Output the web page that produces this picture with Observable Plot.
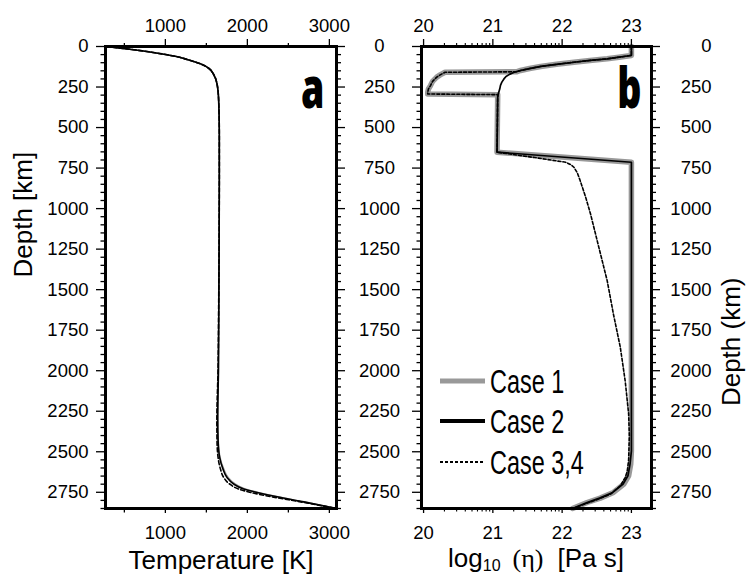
<!DOCTYPE html>
<html>
<head>
<meta charset="utf-8">
<script src="https://cdn.jsdelivr.net/npm/d3@7"></script>
<script src="https://cdn.jsdelivr.net/npm/@observablehq/plot@0.6"></script>
<style>
html, body { margin: 0; padding: 0; background: #fff; }
#wrap { position: relative; width: 746px; height: 575px; overflow: hidden; }
#wrap svg { position: absolute; top: 0; overflow: visible; }
</style>
</head>
<body>
<div id="wrap"></div>
<script>
// ---------------- data ----------------
const depthTicks = [0, 250, 500, 750, 1000, 1250, 1500, 1750, 2000, 2250, 2500, 2750];
const depthMinorTicks = d3.range(50, 2851, 50).filter(d => d % 250 !== 0);
const tempTicks = [1000, 2000, 3000];
const tempMinorTicks = [500, 1500, 2500];
const viscTicks = [20, 21, 22, 23];
const viscMinorTicks = [20, 21, 22, 23].flatMap(n => [2,3,4,5,6,7,8,9].map(k => n + Math.log10(k))).filter(v => v < 23.29);

const legendLabels = ["Case 1", "Case 2", "Case 3,4"];
const panelLetters = ["a", "b"];

// [depth km, temperature K]
const tempCase1 = [[0,280],[10,450],[20,613],[35,830],[51,1020],[65,1160],[80,1264],[107,1427],[134,1528],[173,1589],[230,1630],[333,1650],[540,1658],[800,1658],[1200,1656],[1600,1652],[2000,1647],[2300,1640],[2432,1645],[2535,1666],[2607,1712],[2659,1765],[2699,1850],[2730,1972],[2751,2132],[2778,2372],[2809,2692],[2850,3087]];
const tempCase2 = [[0,280],[10,450],[20,613],[35,830],[51,1020],[65,1160],[80,1264],[107,1427],[134,1528],[173,1589],[230,1630],[333,1650],[540,1658],[800,1658],[1200,1656],[1600,1652],[2000,1647],[2300,1638],[2432,1643],[2535,1662],[2607,1703],[2659,1752],[2699,1833],[2730,1955],[2751,2118],[2778,2362],[2809,2687],[2850,3087]];
const tempCase34 = [[0,280],[10,450],[20,613],[35,830],[51,1020],[65,1160],[80,1264],[107,1427],[134,1528],[173,1589],[230,1630],[333,1650],[540,1658],[800,1658],[1200,1655],[1600,1650],[2000,1642],[2300,1628],[2432,1630],[2535,1643],[2607,1672],[2659,1712],[2699,1784],[2730,1894],[2751,2040],[2778,2300],[2809,2650],[2850,3087]];

// [depth km, log10 viscosity]
const viscCase1 = [[0,23.0],[55,23.0],[60,22.92],[66,22.82],[76,22.65],[86,22.4],[97,22.17],[110,21.92],[123,21.69],[136,21.53],[148,21.40],[156,21.34],[159,20.31],[175,20.24],[189,20.19],[215,20.13],[241,20.10],[262,20.07],[282,20.06],[293,20.06],[297,21.07],[652,21.06],[714,23.0],[2494,23.0],[2576,22.99],[2648,22.96],[2699,22.89],[2751,22.74],[2786,22.55],[2813,22.36],[2850,22.15]];
const viscCase2 = [[0,23.0],[55,23.0],[60,22.92],[66,22.82],[76,22.65],[86,22.4],[97,22.17],[110,21.92],[123,21.69],[136,21.53],[148,21.40],[160,21.30],[172,21.24],[185,21.19],[200,21.16],[220,21.13],[240,21.11],[261,21.10],[290,21.08],[313,21.07],[652,21.06],[714,23.0],[2494,23.0],[2576,22.98],[2648,22.95],[2699,22.88],[2751,22.73],[2786,22.54],[2813,22.36],[2850,22.15]];
const viscCase34 = [[0,23.0],[55,23.0],[60,22.92],[66,22.82],[76,22.65],[86,22.4],[97,22.17],[110,21.92],[123,21.69],[136,21.53],[148,21.40],[156,21.34],[159,20.31],[175,20.24],[189,20.19],[215,20.13],[241,20.10],[262,20.07],[282,20.06],[293,20.06],[297,21.07],[652,21.06],[685,21.6],[714,22.05],[730,22.13],[745,22.17],[780,22.22],[827,22.26],[930,22.34],[1033,22.41],[1239,22.53],[1444,22.65],[1650,22.74],[1856,22.84],[2062,22.91],[2267,22.96],[2400,22.97],[2550,22.96],[2620,22.94],[2659,22.91],[2710,22.84],[2761,22.70],[2796,22.50],[2827,22.30],[2850,22.15]];

// ---------------- layout ----------------
const H = 575;
const sansFont = '"Liberation Sans", Arial, Helvetica, sans-serif';
const condFont = '"Open Sans", "Noto Sans", sans-serif';
const tickFS = 18.5;
const titleFS = 26;
const fmt = d => String(d);
const blank = () => "";
const wrap = document.getElementById("wrap");

const depthY = {domain: [0, 2850], reverse: true};

// horizontally condense a text produced by a Plot.text mark
function condense(svgNode, label, sx) {
  d3.select(svgNode).selectAll("text").filter(function () { return this.textContent === label; })
    .each(function () {
      const el = d3.select(this);
      const tr = el.attr("transform");
      if (tr) {
        el.attr("transform", tr + ` scale(${sx},1)`);
      } else {
        const x = +el.attr("x") || 0, y = +el.attr("y") || 0;
        el.attr("x", null).attr("y", null).attr("transform", `translate(${x},${y}) scale(${sx},1)`);
      }
    });
}

// ---------- panel a ----------
const plotA = Plot.plot({
  width: 350, height: H,
  marginLeft: 105, marginRight: 14, marginTop: 46, marginBottom: 67,
  style: {fontFamily: sansFont, fontSize: tickFS + "px", color: "#000", background: "transparent", overflow: "visible"},
  x: {domain: [270, 3087]},
  y: depthY,
  marks: [
    Plot.line(tempCase1, {x: d => d[1], y: d => d[0], stroke: "#999", strokeWidth: 1.6, curve: "monotone-y"}),
    Plot.line(tempCase34, {x: d => d[1], y: d => d[0], stroke: "#000", strokeWidth: 1.6, strokeDasharray: "4,2.5", curve: "monotone-y"}),
    Plot.line(tempCase2, {x: d => d[1], y: d => d[0], stroke: "#000", strokeWidth: 1.6, curve: "monotone-y"}),
    Plot.frame({stroke: "#000", strokeWidth: 3}),
    Plot.axisX({anchor: "top", ticks: tempTicks, tickSize: 8, tickPadding: 7, tickFormat: fmt, label: null, fontSize: tickFS, strokeWidth: 1.3}),
    Plot.axisX({anchor: "top", ticks: tempMinorTicks, tickSize: 4, tickFormat: blank, label: null, strokeWidth: 1.3}),
    Plot.axisX({anchor: "bottom", ticks: tempTicks, tickSize: 5, tickPadding: 12, tickFormat: fmt, label: null, fontSize: tickFS, strokeWidth: 1.3}),
    Plot.axisX({anchor: "bottom", ticks: tempMinorTicks, tickSize: 4.5, tickFormat: blank, label: null, strokeWidth: 1.3}),
    Plot.axisY({anchor: "left", ticks: depthTicks, tickSize: 9, tickPadding: 8, tickFormat: fmt, label: null, fontSize: tickFS, strokeWidth: 1.3}),
    Plot.axisY({anchor: "left", ticks: depthMinorTicks, tickSize: 4.5, tickFormat: blank, label: null, strokeWidth: 1.3}),
    Plot.axisY({anchor: "right", ticks: depthTicks, tickSize: 8, tickFormat: blank, label: null, strokeWidth: 1.3}),
    Plot.axisY({anchor: "right", ticks: depthMinorTicks, tickSize: 4, tickFormat: blank, label: null, strokeWidth: 1.3}),
    Plot.text(["Temperature [K]"], {frameAnchor: "bottom", dy: 60, lineAnchor: "bottom", fontSize: titleFS}),
    Plot.text(["Depth [km]"], {frameAnchor: "left", rotate: -90, dx: -74, lineAnchor: "bottom", fontSize: titleFS}),
    Plot.text([panelLetters[0]], {frameAnchor: "top-right", dx: -12, dy: 61, textAnchor: "end", lineAnchor: "bottom", fontSize: 57, fontWeight: 800, fontFamily: condFont})
  ]
});
plotA.style.left = "0px";
condense(plotA, panelLetters[0], 0.66);
wrap.appendChild(plotA);

// ---------- panel b ----------
const B_LEFT = 350;
const plotB = Plot.plot({
  width: 396, height: H,
  marginLeft: 71, marginRight: 95, marginTop: 46, marginBottom: 67,
  style: {fontFamily: sansFont, fontSize: tickFS + "px", color: "#000", background: "transparent", overflow: "visible"},
  x: {domain: [19.97, 23.29]},
  y: depthY,
  marks: [
    Plot.line(viscCase1, {x: d => d[1], y: d => d[0], stroke: "#999", strokeWidth: 5.5, strokeLinejoin: "round"}),
    Plot.line(viscCase2, {x: d => d[1], y: d => d[0], stroke: "#000", strokeWidth: 1.7}),
    Plot.line(viscCase34, {x: d => d[1], y: d => d[0], stroke: "#000", strokeWidth: 1.6, strokeDasharray: "3,2"}),
    Plot.frame({stroke: "#000", strokeWidth: 3}),
    Plot.axisX({anchor: "top", ticks: viscTicks, tickSize: 8, tickPadding: 7, tickFormat: fmt, label: null, fontSize: tickFS, strokeWidth: 1.3}),
    Plot.axisX({anchor: "top", ticks: viscMinorTicks, tickSize: 4, tickFormat: blank, label: null, strokeWidth: 1.1}),
    Plot.axisX({anchor: "bottom", ticks: viscTicks, tickSize: 5, tickPadding: 12, tickFormat: fmt, label: null, fontSize: tickFS, strokeWidth: 1.3}),
    Plot.axisX({anchor: "bottom", ticks: viscMinorTicks, tickSize: 3.5, tickFormat: blank, label: null, strokeWidth: 1.1}),
    Plot.axisY({anchor: "left", ticks: depthTicks, tickSize: 9, tickFormat: blank, label: null, strokeWidth: 1.3}),
    Plot.axisY({anchor: "left", ticks: depthTicks, tickSize: 0, tickPadding: 42, textAnchor: "middle", tickFormat: fmt, label: null, fontSize: tickFS}),
    Plot.axisY({anchor: "left", ticks: depthMinorTicks, tickSize: 4.5, tickFormat: blank, label: null, strokeWidth: 1.3}),
    Plot.axisY({anchor: "right", ticks: depthTicks, tickSize: 8, tickFormat: blank, label: null, strokeWidth: 1.3}),
    Plot.axisY({anchor: "right", ticks: depthTicks, tickSize: 0, tickPadding: 60, textAnchor: "end", tickFormat: fmt, label: null, fontSize: tickFS}),
    Plot.axisY({anchor: "right", ticks: depthMinorTicks, tickSize: 4, tickFormat: blank, label: null, strokeWidth: 1.3}),
    Plot.text(["Depth (km)"], {frameAnchor: "right", rotate: -90, dx: 88, lineAnchor: "bottom", fontSize: titleFS}),
    Plot.text([panelLetters[1]], {frameAnchor: "top-right", dx: -10, dy: 61, textAnchor: "end", lineAnchor: "bottom", fontSize: 57, fontWeight: 800, fontFamily: condFont})
  ]
});
plotB.style.left = B_LEFT + "px";
condense(plotB, panelLetters[1], 0.66);
wrap.appendChild(plotB);

// x-axis title with subscript for panel b, and the legend
{
  const svg = d3.select(plotB);
  const cx = 71 + (396 - 71 - 95) / 2;
  const t = svg.append("text")
    .attr("x", cx).attr("y", 567)
    .attr("text-anchor", "middle")
    .attr("font-family", sansFont)
    .attr("font-size", titleFS)
    .attr("fill", "#000");
  t.append("tspan").text("log");
  t.append("tspan").attr("font-size", 16).attr("dy", 4).text("10");
  t.append("tspan").attr("dy", -4).attr("dx", 12)
    .attr("font-family", '"Liberation Serif", "DejaVu Serif", serif').text("(η)");
  t.append("tspan").attr("dx", 14).text("[Pa s]");

  const styles = [
    {stroke: "#999", width: 5, dash: null},
    {stroke: "#000", width: 4, dash: null},
    {stroke: "#000", width: 2, dash: "3,2"}
  ];
  const legendY = [381, 421, 462];
  const lg = svg.append("g");
  const x0 = 71 + 19;
  legendLabels.forEach((lab, i) => {
    const s = styles[i];
    lg.append("line")
      .attr("x1", x0).attr("x2", x0 + 45)
      .attr("y1", legendY[i]).attr("y2", legendY[i])
      .attr("stroke", s.stroke).attr("stroke-width", s.width)
      .attr("stroke-dasharray", s.dash);
    lg.append("text")
      .attr("transform", `translate(${x0 + 50},${legendY[i] + 12}) scale(0.69,1)`)
      .attr("text-anchor", "start")
      .attr("font-family", sansFont)
      .attr("font-size", 34)
      .attr("fill", "#000")
      .text(lab);
  });
}
</script>
</body>
</html>
